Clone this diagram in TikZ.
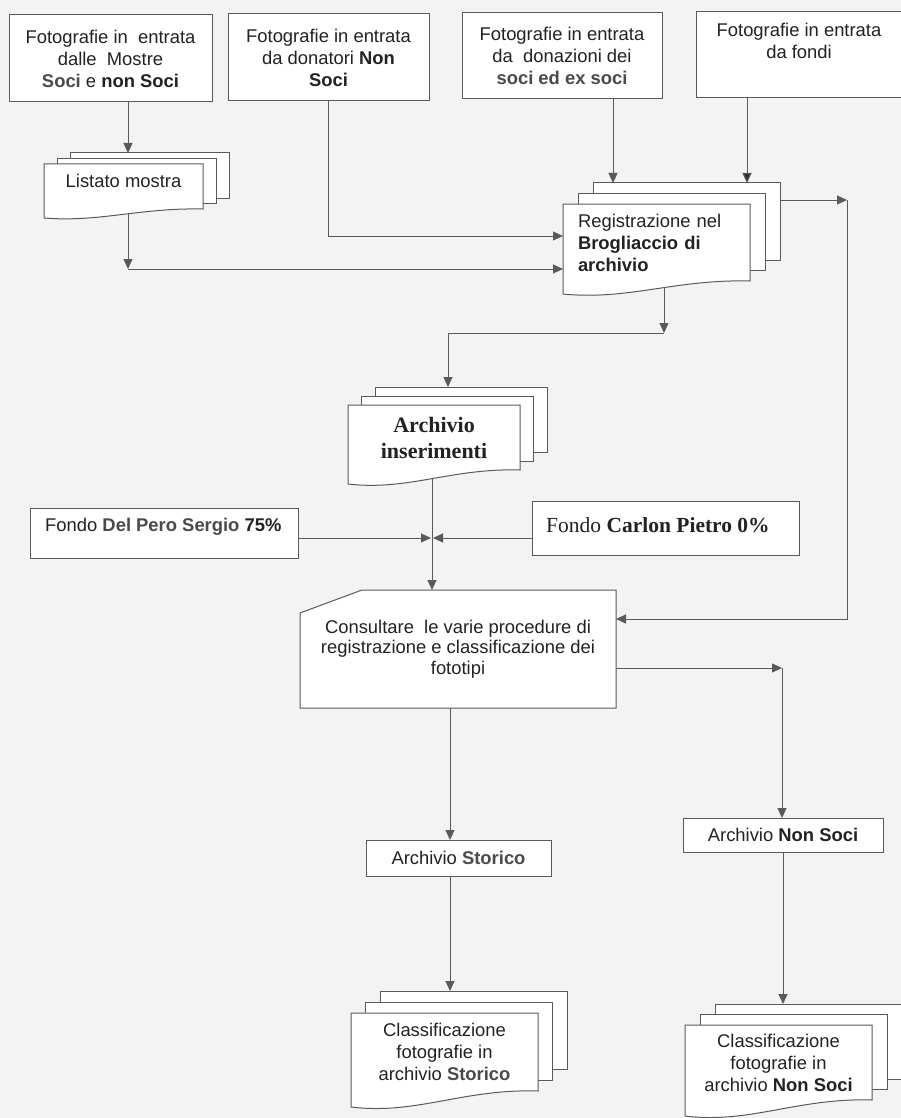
\documentclass[tikz,border=0pt]{standalone}
\usepackage{fontspec}
\setmainfont{Liberation Sans}
\newfontfamily\tms{Liberation Serif}
\usetikzlibrary{arrows.meta}
\definecolor{linecol}{HTML}{5A5A5A}
\definecolor{txt}{HTML}{222222}
\definecolor{txtl}{HTML}{4A4A4A}
\definecolor{bgc}{HTML}{F3F3F3}
\pgfdeclarelayer{bglayer}
\pgfdeclarelayer{connlayer}
\pgfdeclarelayer{shapelayer}
\pgfsetlayers{bglayer,connlayer,shapelayer,main}
\newcommand\fs{\fontsize{18.4pt}{22pt}\selectfont}
\newcommand\bgr[1]{\textbf{\color{txtl}#1}}
% name, x1, y1, x2, yb, dx, dy, d
\newcommand\mdoc[8]{%
  \node[page, anchor=north west, minimum width={#4-#2}, minimum height={#5-#3}] (#1c) at ({#2+2*#6},{#3-2*#7}) {};
  \node[page, anchor=north west, minimum width={#4-#2}, minimum height={#5-#3}] (#1b) at ({#2+#6},{#3-#7}) {};
  \draw[shp] (#2,#3) -- (#4,#3) -- (#4,#5) .. controls ({#4-0.4*(#4-#2)},{#5-0.15*#8}) and ({#2+0.35*(#4-#2)},{#5+1.5*#8}) .. (#2,{#5+#8}) -- cycle;
}
\begin{document}
\begin{tikzpicture}[x=1pt,y=-1pt,
  every node/.style={text=txt},
  box/.style={draw=linecol, fill=white, line width=1pt, outer sep=0pt, inner sep=0pt, align=center, font=\fs, anchor=north west},
  page/.style={draw=linecol, fill=white, line width=1pt, outer sep=0pt, inner sep=0pt},
  shp/.style={draw=linecol, fill=white, line width=1pt},
  doctext/.style={outer sep=0pt, inner sep=0pt, align=center, font=\fs, anchor=north west},
  arr/.style={draw=linecol, line width=1pt, -{Triangle[length=10pt,width=9pt]}},
  arrk/.style={draw=linecol, line width=1pt, -{Triangle[length=10pt,width=9pt,fill=black!80]}}
]
\useasboundingbox (0,0) rectangle (901,1118);
\begin{pgfonlayer}{bglayer}
  \fill[bgc] (0,0) rectangle (901,1118);
\end{pgfonlayer}

% top boxes
\node[box, minimum width=203pt, minimum height=87pt] (ms) at (9,15)
  {Fotografie in\ \ entrata\\dalle\ \ Mostre\\\bgr{Soci} e \textbf{non Soci}};
\node[box, minimum width=201pt, minimum height=87pt] (dn) at (228,14)
  {Fotografie in entrata\\da donatori \textbf{Non}\\\textbf{Soci}};
\node[box, minimum width=200pt, minimum height=86pt] (ds) at (462,13)
  {Fotografie in entrata\\da\ \ donazioni dei\\\bgr{soci ed ex soci}};
\node[box, minimum width=206pt, minimum height=86pt] (fd) at (696,12)
  {Fotografie in entrata\\da fondi\\\strut};

% document stacks
\mdoc{lst}{44}{164}{203}{209}{13}{5.5}{9}
\node[doctext, minimum width=159pt, minimum height=34pt] (lst) at (44,164) {Listato mostra};

\mdoc{reg}{563}{204}{750}{281}{15}{10.5}{13}
\node[doctext, minimum width=187pt, minimum height=77pt, align=left, text width=157pt, inner xsep=15pt] (reg) at (563,204)
  {Registrazione nel\\\textbf{Brogliaccio di}\\\textbf{archivio}};

\mdoc{ins}{348}{405}{520}{470}{13.5}{9}{14}
\node[doctext, minimum width=172pt, minimum height=65pt, font=\tms\fontsize{22pt}{26pt}\selectfont\bfseries] (ins) at (348,405)
  {Archivio\\inserimenti};

% fondi
\node[box, minimum width=268pt, minimum height=50pt] (fpero) at (30,508) {};
\node[anchor=west, inner sep=0pt, font=\fs] (fperot) at (45,527) {Fondo \bgr{Del Pero Sergio} \textbf{75\%}};
\node[box, minimum width=267pt, minimum height=54pt] (fcarlon) at (532,501) {};
\node[anchor=west, inner sep=0pt, font=\tms\fontsize{21.5pt}{24pt}\selectfont] (fcarlont) at (546,525) {Fondo \textbf{Carlon Pietro 0\%}};

% consultare
\node[doctext, minimum width=316pt, minimum height=118pt, font=\fontsize{18.4pt}{20.5pt}\selectfont] (cons) at (300,590)
  {Consultare\ \ le varie procedure di\\registrazione e classificazione dei\\fototipi};
\begin{pgfonlayer}{shapelayer}
  \draw[shp] (cons.south west) -- ([yshift=-23pt]cons.north west) -- ([xshift=62pt]cons.north west) -- (cons.north east) -- (cons.south east) -- cycle;
\end{pgfonlayer}

% archives
\node[box, minimum width=185pt, minimum height=36pt] (ast) at (366,840) {Archivio \bgr{Storico}};
\node[box, minimum width=200pt, minimum height=34pt] (ans) at (683,818) {Archivio \textbf{Non Soci}};

\mdoc{cst}{351}{1013}{538}{1091}{14.5}{11}{16}
\node[doctext, minimum width=187pt, minimum height=78pt] (cst) at (351,1013)
  {Classificazione\\fotografie in\\archivio \bgr{Storico}};

\mdoc{cns}{685}{1025}{872}{1100}{15}{10.5}{16}
\node[doctext, minimum width=187pt, minimum height=75pt] (cns) at (685,1025)
  {Classificazione\\fotografie in\\archivio \textbf{Non Soci}};

% connectors
\begin{pgfonlayer}{connlayer}
  \coordinate (c1) at (128,102);
  \draw[arr] (c1) -- (c1 |- lstc.north);
  \coordinate (c2) at (128,269);
  \draw[arr] (lst.center -| c2) -- (c2);
  \draw[arr] (c2) -- (reg.west |- c2);
  \coordinate (d1) at (329,236);
  \draw[arr] (dn.south) |- (reg.west |- d1);
  \coordinate (e1) at (613,99);
  \draw[arr] (e1) -- (e1 |- regc.north);
  \coordinate (f1) at (747,98);
  \draw[arrk] (f1) -- (f1 |- regc.north);
  \coordinate (r1) at (847,200);
  \draw[arr] (regc.east |- r1) -- (r1);
  \coordinate (r2) at (847,619);
  \draw[arr] (r1) -- (r2) -- (cons.east |- r2);
  \coordinate (g1) at (664,333);
  \draw[arr] (reg.center -| g1) -- (g1);
  \coordinate (g2) at (448,333);
  \draw[arr] (g1) -- (g2) -- (g2 |- insc.north);
  \coordinate (meet) at (432,538);
  \draw[arr] (ins.center -| meet) -- (meet |- cons.north);
  \draw[arr] (fpero.east |- meet) -- ([xshift=-1pt]meet);
  \draw[arr] (fcarlon.west |- meet) -- ([xshift=1pt]meet);
  \coordinate (h1) at (782,668);
  \draw[arr] (cons.east |- h1) -- (h1);
  \draw[arr] (h1) -- (h1 |- ans.north);
  \coordinate (sx) at (450,708);
  \draw[arr] (sx) -- (sx |- ast.north);
  \draw[arr] (ast.south -| sx) -- (sx |- cstc.north);
  \draw[arr] (ans.south) -- (ans.south |- cnsc.north);
\end{pgfonlayer}
\end{tikzpicture}
\end{document}
